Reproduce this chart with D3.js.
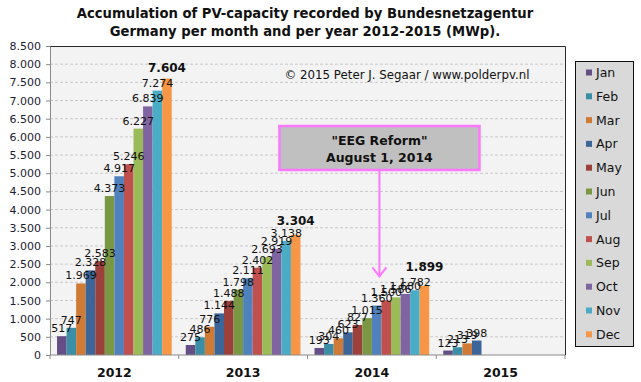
<!DOCTYPE html>
<html><head><meta charset="utf-8">
<script src="https://cdn.jsdelivr.net/npm/d3@7"></script>
<style>body{margin:0;background:#fff}svg{display:block}</style>
</head><body>
<svg id="c" width="641" height="382"></svg>
<script>
const years = ["2012", "2013", "2014", "2015"];
const months = ["Jan","Feb","Mar","Apr","May","Jun","Jul","Aug","Sep","Oct","Nov","Dec"];
const v2012 = [517, 747, 1969, 2328, 2583, 4373, 4917, 5246, 6227, 6839, 7274, 7604];
const v2013 = [275, 486, 776, 1144, 1488, 1798, 2111, 2402, 2693, 2919, 3138, 3304];
const v2014 = [193, 304, 460, 623, 827, 1015, 1360, 1500, 1586, 1680, 1782, 1899];
const v2015 = [123, 213, 319, 398];
const yTicks = d3.range(0, 8501, 500);
const monthColors = ["#654e86","#3a8ea6","#d07b35","#3c6699","#9c403c","#7a9744",
                     "#4f81bd","#c0504d","#9bbb59","#8064a2","#4bacc6","#f79646"];
const titleLines = ["Accumulation of PV-capacity recorded by Bundesnetzagentur",
                    "Germany per month and per year 2012-2015 (MWp)."];
const copyright = "\u00A9 2015 Peter J. Segaar / www.polderpv.nl";
const noteLines = ["\"EEG Reform\"", "August 1, 2014"];

const series = [v2012, v2013, v2014, v2015];
const fmt = d3.formatLocale({decimal: ",", thousands: ".", grouping: [3], currency: ["", ""]}).format(",d");
const FONT = "'DejaVu Sans', Verdana, sans-serif";

const svg = d3.select("#c").style("font-family", FONT);
const L = 50, R = 565, T = 46, B = 355;

const x = d3.scaleBand().domain(years).range([L, R]).paddingInner(0.109).paddingOuter(0.0545);
const xm = d3.scaleBand().domain(months).range([0, x.bandwidth()]);
const y = d3.scaleLinear().domain([0, 8500]).range([B, T]);
const color = d3.scaleOrdinal().domain(months).range(monthColors);

// plot background
svg.append("rect").attr("x", L).attr("y", T).attr("width", R - L).attr("height", B - T).attr("fill", "#f3f3f3");

// gridlines
svg.append("g").selectAll("line").data(yTicks.filter(t => t > 0 && t < 8500)).join("line")
  .attr("x1", L).attr("x2", R).attr("y1", d => y(d)).attr("y2", d => y(d))
  .attr("stroke", "#c9c9c9").attr("stroke-dasharray", "3,2").attr("stroke-width", 1);

// border top/right
svg.append("path").attr("d", `M${L},${T + 0.5}H${R + 0.5}V${B}`).attr("fill", "none").attr("stroke", "#2a2a2a");

// bars
const data = [];
series.forEach((vals, yi) => vals.forEach((v, mi) => data.push({year: years[yi], month: months[mi], v, mi, n: vals.length})));
svg.append("g").selectAll("rect").data(data).join("rect")
  .attr("x", d => x(d.year) + xm(d.month))
  .attr("width", xm.bandwidth())
  .attr("y", d => y(d.v))
  .attr("height", d => y(0) - y(d.v))
  .attr("fill", d => color(d.month));

// value labels
svg.append("g").selectAll("text").data(data.filter(d => !(d.mi === 11))).join("text")
  .attr("x", d => x(d.year) + xm(d.month) + xm.bandwidth() / 2)
  .attr("y", d => y(d.v) - 4)
  .attr("text-anchor", "middle").attr("font-size", 11).attr("fill", "#111")
  .text(d => fmt(d.v));
// year totals (bold)
svg.append("g").selectAll("text").data(data.filter(d => d.mi === 11)).join("text")
  .attr("x", d => x(d.year) + xm(d.month) + xm.bandwidth() / 2)
  .attr("y", d => y(d.v) - 7 - (y(0) - y(d.v) < 100 ? 5 : 0) - (y(0) - y(d.v) < 150 ? 3 : 0))
  .attr("text-anchor", "middle").attr("font-size", 12).attr("font-weight", "bold").attr("fill", "#111")
  .text(d => fmt(d.v));

// y axis
const ya = svg.append("g").attr("transform", `translate(${L},0)`)
  .call(d3.axisLeft(y).tickValues(yTicks).tickFormat(fmt).tickSize(4).tickPadding(5).tickSizeOuter(0));
ya.select(".domain").attr("stroke", "#8a8a8a");
ya.selectAll(".tick line").attr("stroke", "#8a8a8a");
ya.selectAll("text").attr("font-size", 11).attr("fill", "#1c1c30").style("font-family", FONT);

// x axis
const xa = svg.append("g").attr("transform", `translate(0,${B})`);
xa.append("line").attr("x1", L).attr("x2", R).attr("stroke", "#8a8a8a");
const bounds = years.map(yr => x(yr) - x.step() * x.paddingInner() / 2).concat([R]);
xa.selectAll("line.tk").data(bounds).join("line").attr("class", "tk")
  .attr("x1", d => d).attr("x2", d => d).attr("y1", 0).attr("y2", 4).attr("stroke", "#8a8a8a");
xa.selectAll("text").data(years).join("text")
  .attr("x", d => x(d) + x.bandwidth() / 2).attr("y", 22)
  .attr("text-anchor", "middle").attr("font-size", 12.5).attr("font-weight", "bold").attr("fill", "#111")
  .text(d => d);

// title
svg.append("g").selectAll("text").data(titleLines).join("text")
  .attr("x", 305).attr("y", (d, i) => 18 + i * 18)
  .attr("text-anchor", "middle").attr("font-size", 13.2).attr("font-weight", "bold").attr("fill", "#111")
  .text(d => d);

// copyright
svg.append("text").attr("x", 407).attr("y", 79).attr("text-anchor", "middle")
  .attr("font-size", 11.8).attr("fill", "#111").text(copyright);

// annotation
const ax = x("2014") + xm("Aug") - 2;
const boxTop = 126, boxH = 44, boxW = 200;
const ann = svg.append("g");
ann.append("line").attr("x1", ax).attr("x2", ax).attr("y1", boxTop + boxH).attr("y2", y(1500) - 24)
  .attr("stroke", "#ff77ff").attr("stroke-width", 2);
ann.append("path").attr("d", `M${ax - 7},${y(1500) - 33}L${ax},${y(1500) - 24}L${ax + 7},${y(1500) - 33}`)
  .attr("fill", "none").attr("stroke", "#ff77ff").attr("stroke-width", 2);
ann.append("rect").attr("x", ax - boxW / 2).attr("y", boxTop).attr("width", boxW).attr("height", boxH)
  .attr("fill", "#c0c0c0").attr("stroke", "#ff77ff").attr("stroke-width", 2.5);
ann.selectAll("text").data(noteLines).join("text")
  .attr("x", ax).attr("y", (d, i) => boxTop + 19 + i * 17)
  .attr("text-anchor", "middle").attr("font-size", 12.5).attr("font-weight", "bold").attr("fill", "#111")
  .text(d => d);

// legend
const lg = svg.append("g");
lg.append("rect").attr("x", 575.5).attr("y", 61.5).attr("width", 58).attr("height", 285)
  .attr("fill", "#d9d9d9").attr("stroke", "#111");
const li = lg.selectAll("g").data(months).join("g")
  .attr("transform", (d, i) => `translate(586,${72.5 + i * 23.8})`);
li.append("rect").attr("x", 0).attr("y", -3).attr("width", 6).attr("height", 6).attr("fill", d => color(d));
li.append("text").attr("x", 10).attr("y", 4.5).attr("font-size", 12.5).attr("fill", "#111").text(d => d);
</script>
</body></html>
